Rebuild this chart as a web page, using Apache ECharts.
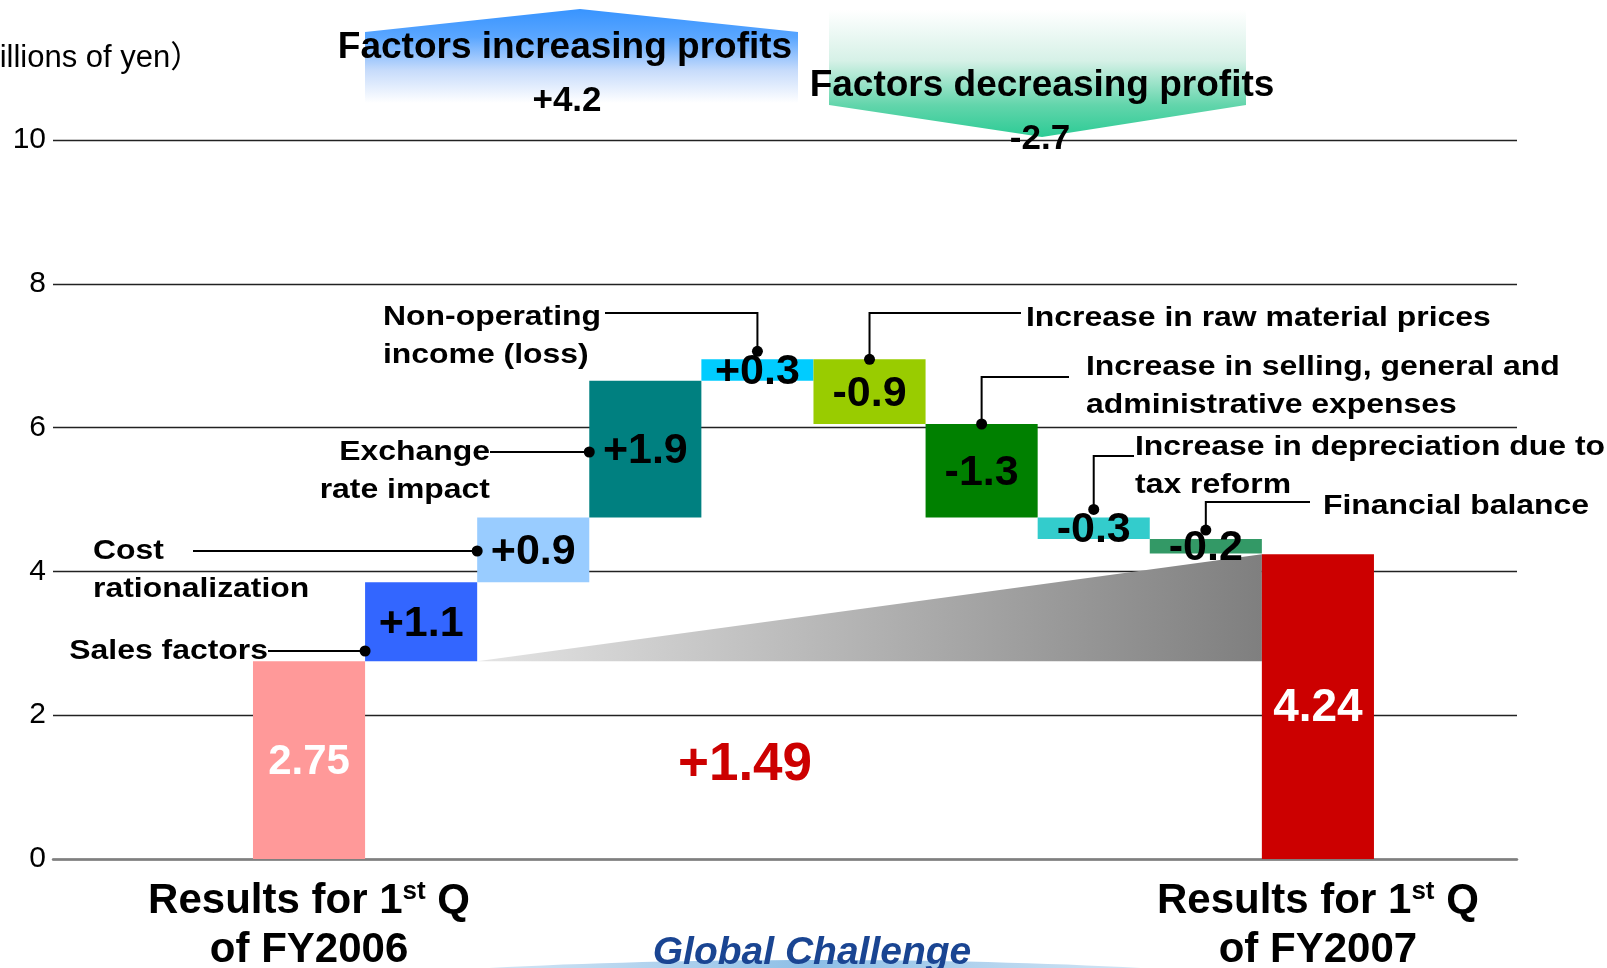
<!DOCTYPE html>
<html>
<head>
<meta charset="utf-8">
<script src="https://cdn.jsdelivr.net/npm/echarts@6/dist/echarts.min.js"></script>
<style>html,body{margin:0;padding:0;background:#fff}#main{width:1607px;height:968px}</style>
</head>
<body>
<div id="main"></div>
<script>
// ---------------- data ----------------
const categories = [
  'Results for 1st Q\nof FY2006',
  'Sales factors',
  'Cost\nrationalization',
  'Exchange\nrate impact',
  'Non-operating\nincome (loss)',
  'Increase in raw material prices',
  'Increase in selling, general and\nadministrative expenses',
  'Increase in depreciation due to\ntax reform',
  'Financial balance',
  'Results for 1st Q\nof FY2007'
];
const startValue = 2.75;
const changeValues = [1.1, 0.9, 1.9, 0.3, -0.9, -1.3, -0.3, -0.2];
const endValue = 4.24;
const yTicks = [0, 2, 4, 6, 8, 10];
const unitLabel = '（Billions of yen）';
const headerIncrease = 'Factors increasing profits';
const headerDecrease = 'Factors decreasing profits';
const logoText = 'Global Challenge';

// ---------------- styles / layout ----------------
const FONT = "'Liberation Sans', Arial, 'Noto Sans CJK JP', sans-serif";
const barColors = ['#FF9999','#3366FF','#99CCFF','#008080','#00CCFF','#99CC00','#008000','#33CCCC','#339966','#CC0000'];
const totalLabelSizes = [42, 46];
const LH = 38;
const annotationLayout = [
  null,
  {mode:'left', lineY:651, lineFrom:268, textX:268, align:'right'},
  {mode:'left', lineY:551, lineFrom:193, textX:93,  align:'left'},
  {mode:'left', lineY:452, lineFrom:490, textX:490, align:'right'},
  {mode:'top', dy:-8, elbowY:313, lineTo:605,  textX:383,  textY:317, align:'left'},
  {mode:'top', dy:0,  elbowY:313, lineTo:1021, textX:1026, textY:318, align:'left'},
  {mode:'top', dy:0,  elbowY:377, lineTo:1069, textX:1086, textY:367, align:'left'},
  {mode:'top', dy:-8, elbowY:456, lineTo:1134, textX:1135, textY:447, align:'left'},
  {mode:'top', dy:-9, elbowY:502, lineTo:1310, textX:1323, textY:506, align:'left'}
];

// ---------------- derived rows ----------------
const rows = [[0, 0, startValue, startValue]];
let run = startValue;
changeValues.forEach((d, k) => {
  const a = run, b = run + d;
  rows.push([k + 1, Math.min(a, b), Math.max(a, b), d]);
  run = b;
});
rows.push([categories.length - 1, 0, endValue, endValue]);
const sumUp = changeValues.filter(v => v > 0).reduce((s, v) => s + v, 0);
const sumDown = changeValues.filter(v => v < 0).reduce((s, v) => s + v, 0);
const netChange = endValue - startValue;
const fmtSigned = (v, d) => (v > 0 ? '+' : '') + v.toFixed(d);

function richLine(line) {
  return '{a|' + line.replace(/(\d)(st|nd|rd|th)\b/, '$1}{s|$2}{a|') + '}';
}

function renderBar(params, api) {
  const i = api.value(0), lo = api.value(1), hi = api.value(2), v = api.value(3);
  const p1 = api.coord([i - 0.5, hi]);
  const p2 = api.coord([i + 0.5, lo]);
  const isTotal = (i === 0 || i === categories.length - 1);
  const cx = (p1[0] + p2[0]) / 2, cy = (p1[1] + p2[1]) / 2;
  const children = [{
    type: 'rect',
    shape: {x: p1[0], y: p1[1], width: p2[0] - p1[0], height: p2[1] - p1[1]},
    style: {fill: barColors[i]}
  }, {
    type: 'text', x: cx, y: cy + 2, z2: 10,
    style: {
      text: isTotal ? v.toFixed(2) : fmtSigned(v, 1),
      fill: isTotal ? '#fff' : '#000',
      fontSize: isTotal ? totalLabelSizes[i === 0 ? 0 : 1] : 43,
      fontWeight: 'bold', fontFamily: FONT,
      align: 'center', verticalAlign: 'middle', textAlign: 'center', textVerticalAlign: 'middle'
    }
  }];
  if (isTotal) {
    const base = api.coord([i, 0]);
    const lines = categories[i].split('\n');
    lines.forEach((ln, k) => {
      children.push({
        type: 'text', x: base[0], y: base[1] + 42 + k * 49,
        style: {
          text: richLine(ln),
          rich: {
            a: {fontSize: 42, fontWeight: 'bold', fontFamily: FONT, fill: '#000', lineHeight: 49},
            s: {fontSize: 26, fontWeight: 'bold', fontFamily: FONT, fill: '#000', lineHeight: 49, verticalAlign: 'top', padding: [2, 0, 0, 0]}
          },
          align: 'center', verticalAlign: 'middle', textAlign: 'center', textVerticalAlign: 'middle'
        }
      });
    });
  }
  return {type: 'group', children};
}

function renderWedge(params, api) {
  const iL = api.value(0), iR = api.value(1);
  const a = api.coord([iL + 0.5, startValue]);
  const b = api.coord([iR - 0.5, endValue]);
  const c = api.coord([iR - 0.5, startValue]);
  return {
    type: 'polygon',
    shape: {points: [a, b, c]},
    style: {fill: new echarts.graphic.LinearGradient(0, 0, 1, 0, [
      {offset: 0, color: '#e4e4e4'}, {offset: 1, color: '#7f7f7f'}])}
  };
}

function renderAnnotation(params, api) {
  const i = api.value(0), hi = api.value(2);
  const L = annotationLayout[i];
  const leftEdge = api.coord([i - 0.5, hi]);
  const center = api.coord([i, hi]);
  let ax, ay, pts, ty;
  if (L.mode === 'left') {
    ax = leftEdge[0]; ay = L.lineY;
    pts = [[L.lineFrom, ay], [ax, ay]];
    ty = L.lineY;
  } else {
    ax = center[0]; ay = center[1] + L.dy;
    pts = [[ax, ay], [ax, L.elbowY], [L.lineTo, L.elbowY]];
    ty = L.textY;
  }
  return {
    type: 'group',
    children: [
      {type: 'polyline', shape: {points: pts}, style: {stroke: '#000', lineWidth: 2, fill: 'none'}},
      {type: 'circle', shape: {cx: ax, cy: ay, r: 5.5}, style: {fill: '#000'}},
      {type: 'text', x: L.textX, y: ty - LH / 2, scaleX: 1.14,
       style: {text: categories[i], fontSize: 28, fontWeight: 'bold', fontFamily: FONT, fill: '#000',
               lineHeight: LH, align: L.align, textAlign: L.align, verticalAlign: 'top', textVerticalAlign: 'top'}}
    ]
  };
}

const chart = echarts.init(document.getElementById('main'), null, {renderer: 'canvas'});

const txt = (x, y, text, size, extra) => Object.assign({
  type: 'text', x, y, z: 50,
  style: Object.assign({text, fontSize: size, fontWeight: 'bold', fontFamily: FONT, fill: '#000',
    align: 'center', textAlign: 'center', verticalAlign: 'middle', textVerticalAlign: 'middle'}, (extra || {}))
});

const option = {
  animation: false,
  backgroundColor: '#fff',
  grid: {left: 53, right: 90, top: 140, bottom: 109},
  xAxis: {
    type: 'value', min: -2.284, max: 10.776,
    axisLine: {show: true, lineStyle: {color: '#7f7f7f', width: 2.5}},
    axisTick: {show: false}, axisLabel: {show: false}, splitLine: {show: false}
  },
  yAxis: {
    type: 'value', min: yTicks[0], max: yTicks[yTicks.length - 1], interval: yTicks[1] - yTicks[0],
    axisLine: {show: false}, axisTick: {show: false},
    axisLabel: {fontSize: 30, color: '#000', fontFamily: FONT, margin: 7},
    splitLine: {lineStyle: {color: '#222', width: 1.3}}
  },
  series: [
    {type: 'custom', z: 1, clip: false, renderItem: renderWedge,
     data: [[1, categories.length - 1]], encode: {x: [0, 1]}},
    {type: 'custom', z: 2, clip: false, renderItem: renderBar,
     data: rows, encode: {x: 0, y: [1, 2]}},
    {type: 'custom', z: 3, clip: false, renderItem: renderAnnotation,
     data: rows.slice(1, rows.length - 1), encode: {x: 0, y: [1, 2]}}
  ],
  graphic: {elements: [
    {type: 'polygon', z: 40, shape: {points: [[365,103],[365,32],[580,9],[798,32],[798,103]]},
     style: {fill: new echarts.graphic.LinearGradient(0, 0, 0, 1, [
       {offset: 0, color: '#3894ff'}, {offset: 0.3, color: '#5aa6ff'},
       {offset: 0.65, color: '#c6dbfb'}, {offset: 1, color: '#ffffff'}])}},
    {type: 'polygon', z: 40, shape: {points: [[829,10],[1246,10],[1246,105],[1042,137],[829,105]]},
     style: {fill: new echarts.graphic.LinearGradient(0, 0, 0, 1, [
       {offset: 0, color: '#ffffff'}, {offset: 0.4, color: '#d6f1e7'},
       {offset: 0.75, color: '#62d5ab'}, {offset: 1, color: '#2ccb95'}])}},
    txt(565, 48, headerIncrease, 37),
    txt(567, 101, fmtSigned(sumUp, 1), 35),
    txt(1042, 86, headerDecrease, 37),
    txt(1040, 139, fmtSigned(sumDown, 1), 35),
    txt(745, 765, fmtSigned(netChange, 2), 53, {fill: '#CC0000'}),
    txt(-52, 58, unitLabel, 31, {fontWeight: 'normal', align: 'left', textAlign: 'left'}),
    {type: 'ellipse', z: 30, shape: {cx: 815, cy: 1010, rx: 600, ry: 50},
     style: {fill: new echarts.graphic.LinearGradient(0, 0, 1, 0, [
       {offset: 0, color: 'rgba(170,205,235,0)'}, {offset: 0.5, color: 'rgba(140,190,230,1)'},
       {offset: 1, color: 'rgba(170,205,235,0)'}])}},
    txt(812, 953, logoText, 39, {fill: '#1A4592', fontStyle: 'italic'})
  ]}
};
chart.setOption(option);
</script>
</body>
</html>
